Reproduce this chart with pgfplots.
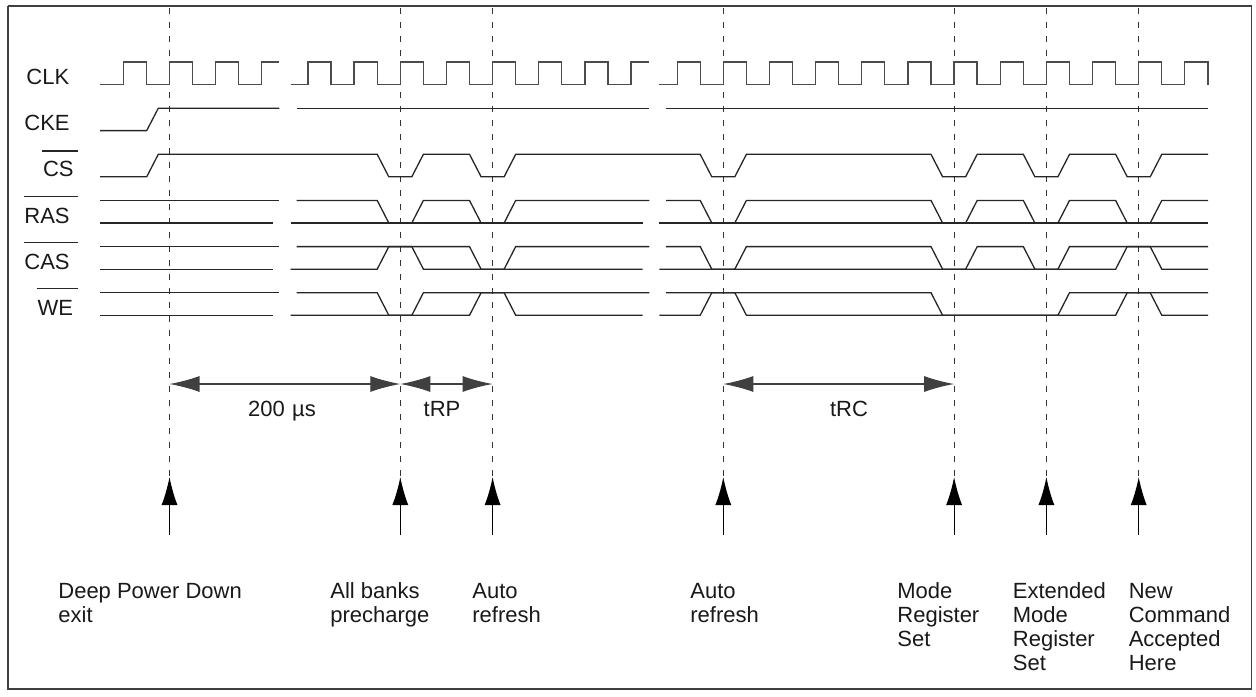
\documentclass[border=0pt]{standalone}
\usepackage{pgfplots}
\pgfplotsset{compat=1.18}
\usetikzlibrary{arrows.meta}
\usepackage{fontspec}
\setmainfont{Liberation Sans}
\tikzset{
  lab/.style={font=\fontsize{11}{13}\selectfont, inner sep=0pt, text=black!90},
}
\pgfplotsset{
  wave/.style={draw=black!85, line width=0.65pt, line join=miter, mark=none},
  clk/.style={draw=black!70, line width=0.65pt, line join=miter, mark=none},
  vdash/.style={draw=black!80, line width=0.6pt, dash pattern=on 3pt off 4pt, mark=none},
  harrow/.style={draw=black!75, line width=0.6pt, mark=none, {Latex[length=15pt,width=8pt]}-{Latex[length=15pt,width=8pt]}},
  uarrow/.style={draw=black, line width=0.6pt, mark=none, -{Latex[length=14pt,width=8pt]}},
}
\begin{document}
\begin{tikzpicture}
\begin{axis}[
  width=628pt, height=348pt, scale only axis,
  xmin=0, xmax=1256, ymin=0, ymax=696, y dir=reverse,
  hide axis, clip=false,
]
% invisible full-size box for the bounding box
\addplot[draw=none, mark=none] coordinates {(0,0) (1256,696)};
% frame
\addplot[draw=black!75, line width=0.75pt, mark=none, line join=miter] coordinates {(8,6) (1251.5,6) (1251.5,689) (8,689) (8,6)};

% ---------- dashed reference lines ----------
\addplot[vdash] coordinates {(169.5,8) (169.5,477)};
\addplot[vdash] coordinates {(400.3,8) (400.3,477)};
\addplot[vdash] coordinates {(492.6,8) (492.6,477)};
\addplot[vdash] coordinates {(723.3,8) (723.3,477)};
\addplot[vdash] coordinates {(954.1,8) (954.1,477)};
\addplot[vdash] coordinates {(1046.4,8) (1046.4,477)};
\addplot[vdash] coordinates {(1138.7,8) (1138.7,477)};

% ---------- CLK ----------
\addplot[clk] coordinates {(100,84.5)(123.4,84.5)(123.4,62)(146.4,62)(146.4,84.5)(169.5,84.5)(169.5,62)(192.6,62)(192.6,84.5)(215.7,84.5)(215.7,62)(238.7,62)(238.7,84.5)(261.8,84.5)(261.8,62)(279.3,62)};
\addplot[clk] coordinates {(290.7,84.5)(308,84.5)(308,62)(331,62)(331,84.5)(354.1,84.5)(354.1,62)(377.2,62)(377.2,84.5)(400.3,84.5)(400.3,62)(423.3,62)(423.3,84.5)(446.4,84.5)(446.4,62)(469.5,62)(469.5,84.5)(492.6,84.5)(492.6,62)(515.6,62)(515.6,84.5)(538.7,84.5)(538.7,62)(561.8,62)(561.8,84.5)(584.9,84.5)(584.9,62)(607.9,62)(607.9,84.5)(631,84.5)(631,62)(649.3,62)};
\addplot[clk] coordinates {(659.3,84.5)(677.2,84.5)(677.2,62)(700.2,62)(700.2,84.5)(723.3,84.5)(723.3,62)(746.4,62)(746.4,84.5)(769.5,84.5)(769.5,62)(792.5,62)(792.5,84.5)(815.6,84.5)(815.6,62)(838.7,62)(838.7,84.5)(861.8,84.5)(861.8,62)(884.8,62)(884.8,84.5)(907.9,84.5)(907.9,62)(931,62)(931,84.5)(954.1,84.5)(954.1,62)(977.1,62)(977.1,84.5)(1000.2,84.5)(1000.2,62)(1023.3,62)(1023.3,84.5)(1046.4,84.5)(1046.4,62)(1069.4,62)(1069.4,84.5)(1092.5,84.5)(1092.5,62)(1115.6,62)(1115.6,84.5)(1138.7,84.5)(1138.7,62)(1161.7,62)(1161.7,84.5)(1184.8,84.5)(1184.8,62)(1207.9,62)(1207.9,84.5)};

% ---------- CKE ----------
\addplot[wave] coordinates {(100,130.6)(146.7,130.6)(158.3,108.2)(279.3,108.2)};
\addplot[wave] coordinates {(296.7,108.2)(649.3,108.2)};
\addplot[wave] coordinates {(666,108.2)(1208,108.2)};

% ---------- CS ----------
\addplot[wave] coordinates {(100,176.8)(146.7,176.8)(158.3,154.3)(377.2,154.3)(388.8,176.8)(411.8,176.8)(423.4,154.3)(469.5,154.3)(481.1,176.8)(504.1,176.8)(515.7,154.3)(700.2,154.3)(711.8,176.8)(734.8,176.8)(746.4,154.3)(931,154.3)(942.6,176.8)(965.6,176.8)(977.2,154.3)(1023.3,154.3)(1034.9,176.8)(1057.9,176.8)(1069.5,154.3)(1115.6,154.3)(1127.2,176.8)(1150.2,176.8)(1161.8,154.3)(1208,154.3)};

% ---------- RAS ----------
\addplot[wave] coordinates {(100,200.4)(279.3,200.4)};
\addplot[wave] coordinates {(296.7,200.4)(377.2,200.4)(388.8,223)(411.8,223)(423.4,200.4)(469.5,200.4)(481.1,223)(504.1,223)(515.7,200.4)(649.3,200.4)};
\addplot[wave] coordinates {(666,200.4)(700.2,200.4)(711.8,223)(734.8,223)(746.4,200.4)(931,200.4)(942.6,223)(965.6,223)(977.2,200.4)(1023.3,200.4)(1034.9,223)(1057.9,223)(1069.5,200.4)(1115.6,200.4)(1127.2,223)(1150.2,223)(1161.8,200.4)(1208,200.4)};
\addplot[wave] coordinates {(100,223)(273.3,223)};
\addplot[wave] coordinates {(290.7,223)(642.7,223)};
\addplot[wave] coordinates {(659.3,223)(1208,223)};

% ---------- CAS ----------
\addplot[wave] coordinates {(100,246.6)(279.3,246.6)};
\addplot[wave] coordinates {(296.7,246.6)(469.5,246.6)(481.1,269.2)(504.1,269.2)(515.7,246.6)(649.3,246.6)};
\addplot[wave] coordinates {(666,246.6)(700.2,246.6)(711.8,269.2)(734.8,269.2)(746.4,246.6)(931,246.6)(942.6,269.2)(965.6,269.2)(977.2,246.6)(1023.3,246.6)(1034.9,269.2)(1057.9,269.2)(1069.5,246.6)(1208,246.6)};
\addplot[wave] coordinates {(100,269.2)(273.3,269.2)};
\addplot[wave] coordinates {(290.7,269.2)(377.2,269.2)(388.8,246.6)(411.8,246.6)(423.4,269.2)(642.7,269.2)};
\addplot[wave] coordinates {(659.3,269.2)(1115.6,269.2)(1127.2,246.6)(1150.2,246.6)(1161.8,269.2)(1208,269.2)};

% ---------- WE ----------
\addplot[wave] coordinates {(100,292.7)(279.3,292.7)};
\addplot[wave] coordinates {(296.7,292.7)(377.2,292.7)(388.8,315.3)(411.8,315.3)(423.4,292.7)(649.3,292.7)};
\addplot[wave] coordinates {(666,292.7)(931,292.7)(942.6,315.3)(1057.9,315.3)(1069.5,292.7)(1208,292.7)};
\addplot[wave] coordinates {(100,315.3)(273.3,315.3)};
\addplot[wave] coordinates {(290.7,315.3)(469.5,315.3)(481.1,292.7)(504.1,292.7)(515.7,315.3)(642.7,315.3)};
\addplot[wave] coordinates {(659.3,315.3)(700.2,315.3)(711.8,292.7)(734.8,292.7)(746.4,315.3)(1115.6,315.3)(1127.2,292.7)(1150.2,292.7)(1161.8,315.3)(1208,315.3)};

% ---------- overlines of active-low names ----------
\addplot[wave] coordinates {(42,151)(77.7,151)};
\addplot[wave] coordinates {(24,196.7)(77.7,196.7)};
\addplot[wave] coordinates {(24,242.7)(77.7,242.7)};
\addplot[wave] coordinates {(36.7,288.7)(77.7,288.7)};

% ---------- signal names ----------
\node[lab, anchor=base west] at (axis cs:26,84.5) {CLK};
\node[lab, anchor=base west] at (axis cs:24,130.6) {CKE};
\node[lab, anchor=base west] at (axis cs:42.7,176.8) {CS};
\node[lab, anchor=base west] at (axis cs:24,223) {RAS};
\node[lab, anchor=base west] at (axis cs:24,269.2) {CAS};
\node[lab, anchor=base west] at (axis cs:37.3,315.3) {WE};

% ---------- timing arrows ----------
\addplot[harrow] coordinates {(169.5,384) (400.3,384)};
\addplot[harrow] coordinates {(400.3,384) (492.6,384)};
\addplot[harrow] coordinates {(723.3,384) (954.1,384)};
\node[lab, anchor=base] at (axis cs:282,416) {200\,\,µs};
\node[lab, anchor=base] at (axis cs:442,416) {tRP};
\node[lab, anchor=base] at (axis cs:849,416) {tRC};

% ---------- event arrows ----------
\addplot[uarrow] coordinates {(169.5,535) (169.5,477)};
\addplot[uarrow] coordinates {(400.3,535) (400.3,477)};
\addplot[uarrow] coordinates {(492.6,535) (492.6,477)};
\addplot[uarrow] coordinates {(723.3,535) (723.3,477)};
\addplot[uarrow] coordinates {(954.1,535) (954.1,477)};
\addplot[uarrow] coordinates {(1046.4,535) (1046.4,477)};
\addplot[uarrow] coordinates {(1138.7,535) (1138.7,477)};

% ---------- event labels ----------
\node[lab, anchor=base west] at (axis cs:58,598) {Deep Power Down};
\node[lab, anchor=base west] at (axis cs:58,622) {exit};
\node[lab, anchor=base west] at (axis cs:330,598) {All banks};
\node[lab, anchor=base west] at (axis cs:330,622) {precharge};
\node[lab, anchor=base west] at (axis cs:472,598) {Auto};
\node[lab, anchor=base west] at (axis cs:472,622) {refresh};
\node[lab, anchor=base west] at (axis cs:690,598) {Auto};
\node[lab, anchor=base west] at (axis cs:690,622) {refresh};
\node[lab, anchor=base west] at (axis cs:897,598) {Mode};
\node[lab, anchor=base west] at (axis cs:897,622) {Register};
\node[lab, anchor=base west] at (axis cs:897,646) {Set};
\node[lab, anchor=base west] at (axis cs:1012.5,598) {Extended};
\node[lab, anchor=base west] at (axis cs:1012.5,622) {Mode};
\node[lab, anchor=base west] at (axis cs:1012.5,646) {Register};
\node[lab, anchor=base west] at (axis cs:1012.5,670) {Set};
\node[lab, anchor=base west] at (axis cs:1128.4,598) {New};
\node[lab, anchor=base west] at (axis cs:1128.4,622) {Command};
\node[lab, anchor=base west] at (axis cs:1128.4,646) {Accepted};
\node[lab, anchor=base west] at (axis cs:1128.4,670) {Here};
\end{axis}
\end{tikzpicture}
\end{document}
